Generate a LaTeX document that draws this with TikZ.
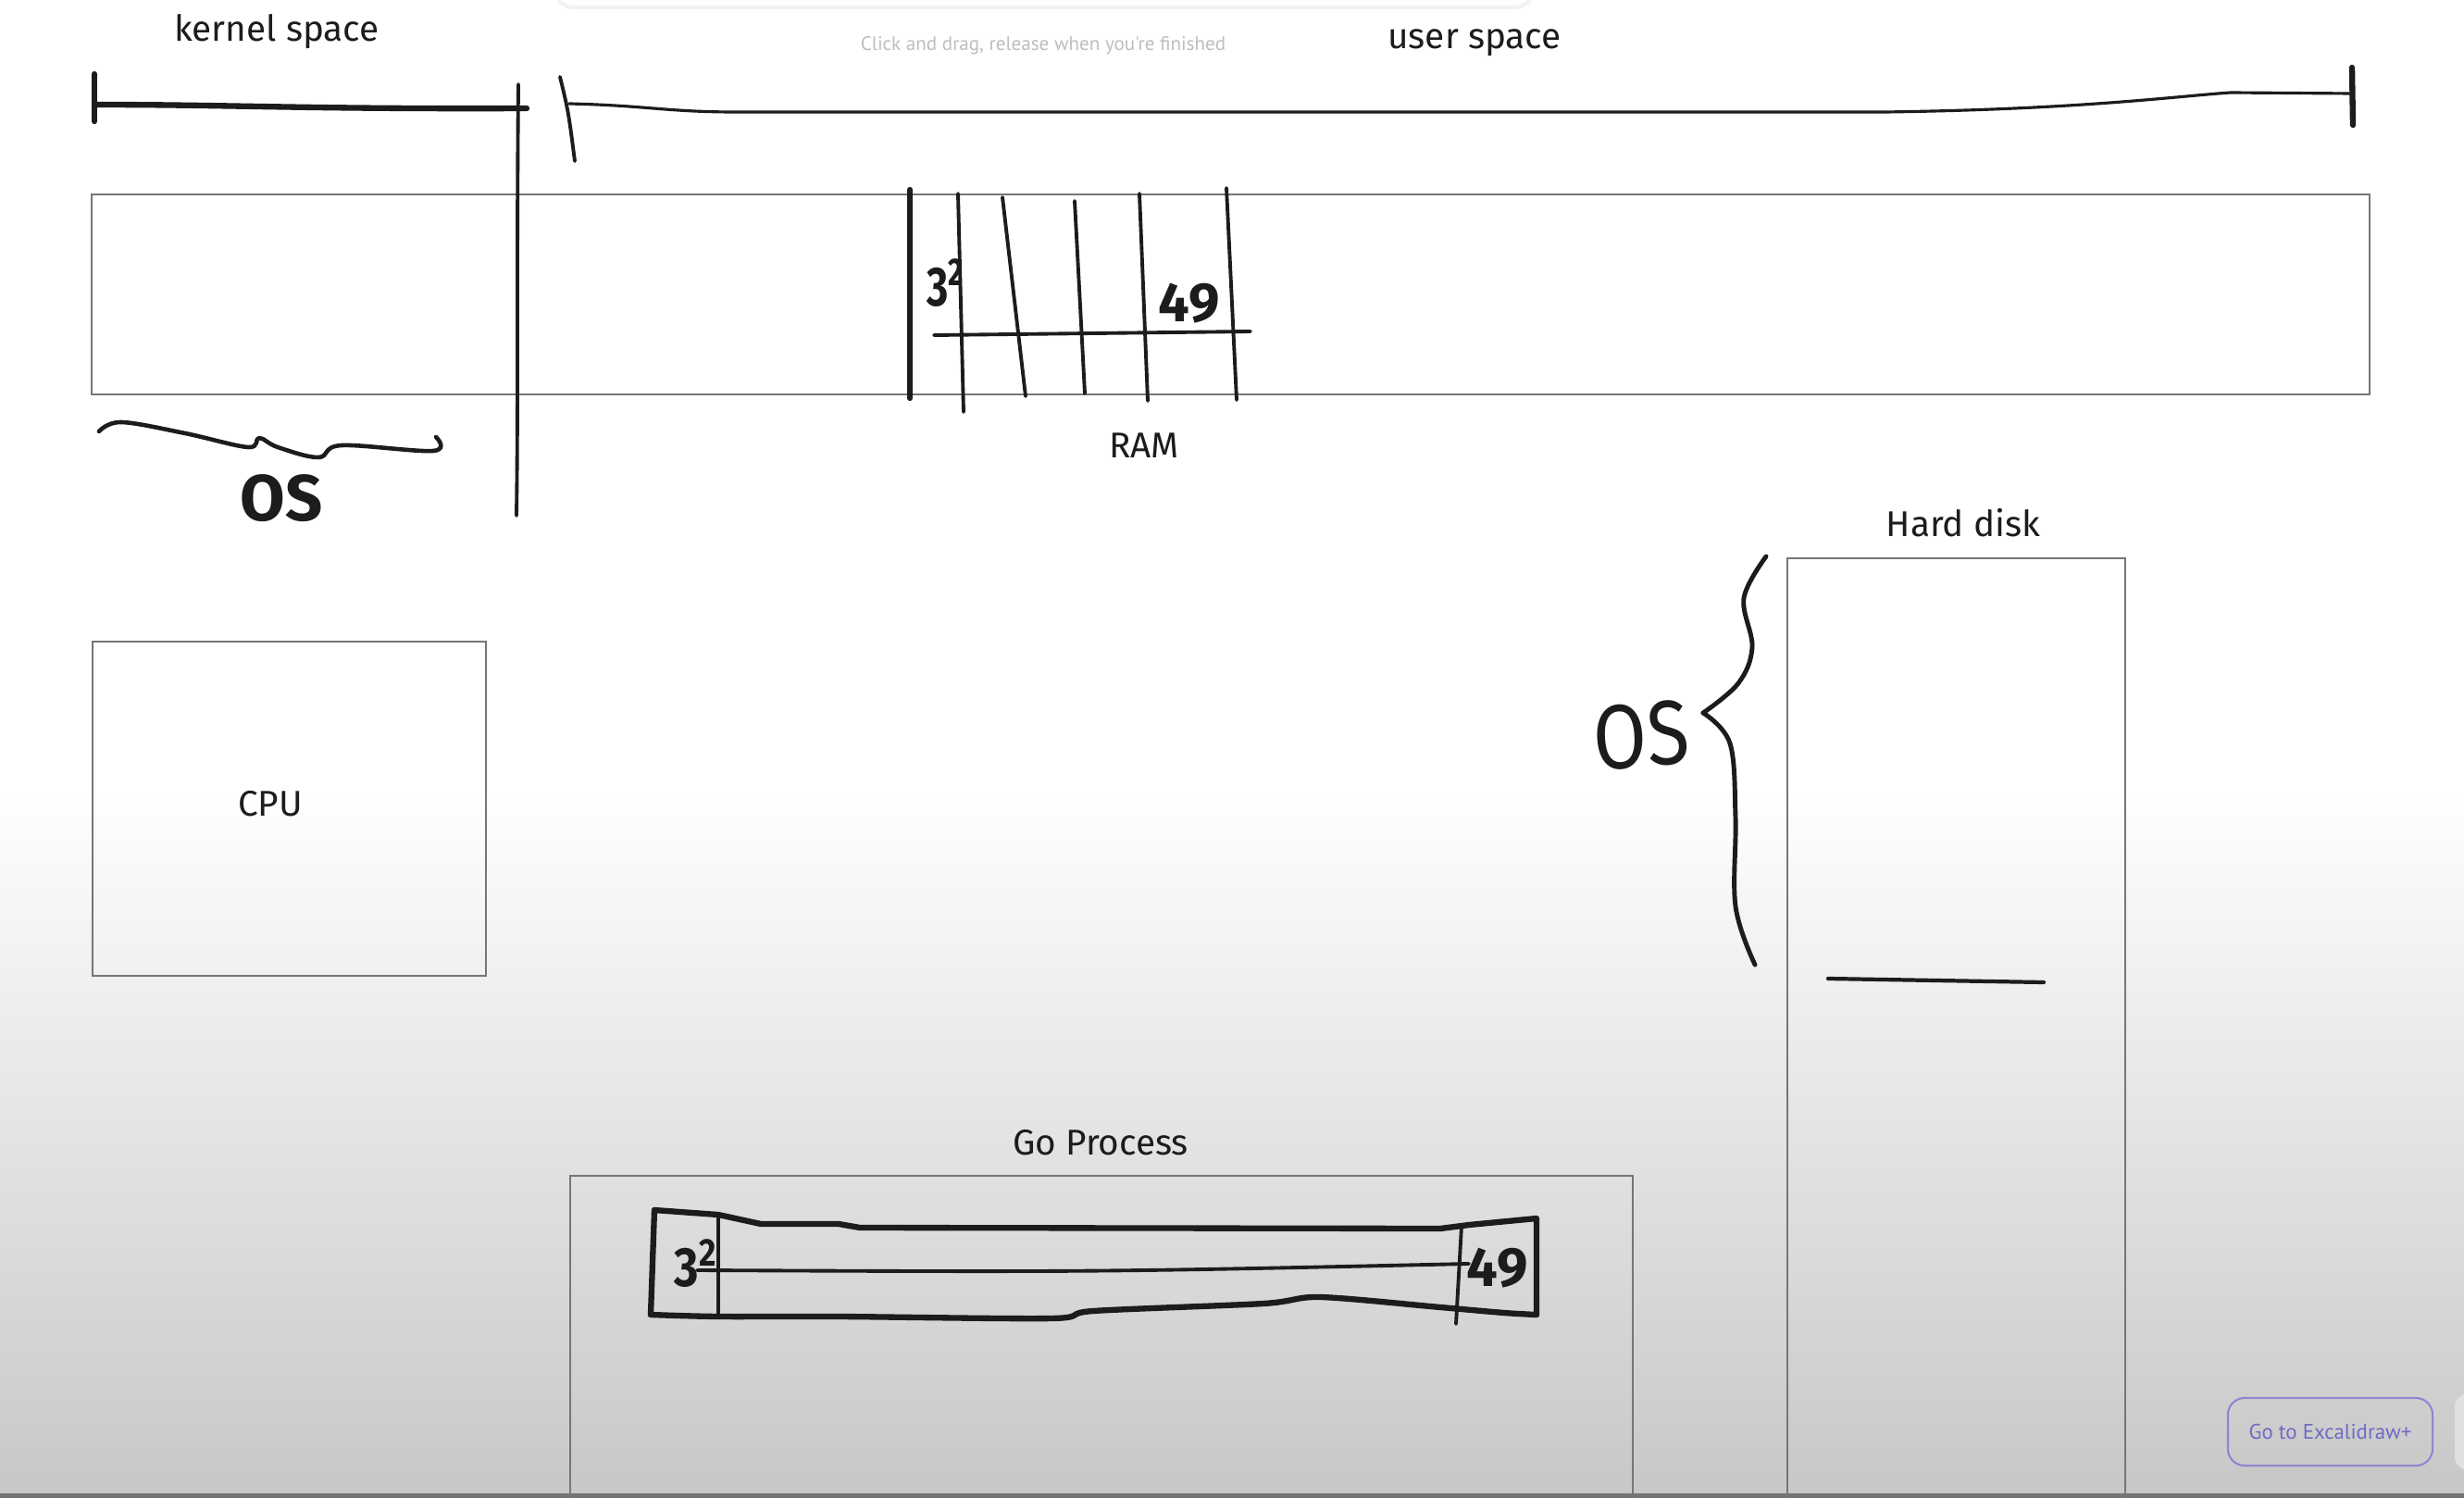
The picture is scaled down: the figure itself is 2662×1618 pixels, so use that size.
\documentclass[tikz,border=0pt]{standalone}
\usepackage{fontspec}
\setmainfont{Fira Sans}
\newfontfamily\uifont{PT Sans}
\usetikzlibrary{positioning,calc}
\definecolor{boxline}{RGB}{118,118,118}
\definecolor{ink}{RGB}{28,28,28}
\definecolor{hint}{RGB}{190,190,190}
\definecolor{plus}{RGB}{112,106,196}
\tikzset{
  box/.style    ={rectangle, draw=boxline, line width=0.6pt, inner sep=0pt},
  lbl/.style    ={font=\fontsize{11}{13}\selectfont, text=ink, inner sep=1pt},
  hand/.style   ={draw=ink, line width=1.1pt, line cap=round, line join=round},
  heavy/.style  ={hand, line width=1.8pt},
  digit/.style  ={font=\fontsize{17}{19}\selectfont\bfseries, text=ink, inner sep=0pt},
  bigos/.style  ={font=\fontsize{20}{22}\selectfont\bfseries, text=ink, inner sep=0pt},
}
\begin{document}
\begin{tikzpicture}[x=0.01cm, y=-0.01cm]
  \useasboundingbox (0,0) rectangle (2662,1618);
  \clip (0,0) rectangle (2662,1618);
  % canvas
  \fill[white] (0,0) rectangle (2662,1618);
  \shade[top color=white, bottom color=black!22] (0,850) rectangle (2662,1618);
  \fill[black!55] (0,1613) rectangle (2662,1618);
  \fill[black!5, rounded corners=6pt] (598,-30) rectangle (1658,10);
  \fill[white, rounded corners=6pt] (600,-30) rectangle (1656,6);

  % boxes
  \node[box, minimum width=24.59cm, minimum height=2.16cm] (ram) at (1329.5,318) {};
  \node[box, minimum width=4.25cm, minimum height=3.61cm] (cpu) at (312.5,873.5) {};
  \node[box, minimum width=3.65cm, minimum height=10.97cm] (disk) at (2113.5,1151.5) {};
  \node[box, minimum width=11.48cm, minimum height=4.30cm] (goproc) at (1190,1485) {};

  % labels
  \node[lbl] (kernel) at (299,34) {kernel space};
  \node[lbl] (user) at (1593,46) {user space};
  \node[text=hint, font=\uifont\fontsize{6}{7}\selectfont] (hintmsg) at (1127,49)
      {Click and drag, release when you're finished};
  \node[lbl] (ramlbl) at (1236,481) {RAM};
  \node[lbl] (cpulbl) at (292,868) {CPU};
  \node[lbl] (disklbl) at (2121,565) {Hard disk};
  \node[lbl] (golbl) at (1189,1234) {Go Process};
  \node[bigos] (oskern) at (304,538) {OS};
  \node[font=\fontsize{28}{30}\selectfont, text=ink, inner sep=0pt, xscale=0.85, rotate=4]
      (osdisk) at (1773,794) {OS};

  % kernel / user split
  \draw[heavy] (102,80) -- (102,131);
  \draw[heavy] (102,113) .. controls (250,113) and (330,118) .. (569,117);
  \draw[hand] (560,91) .. controls (558,300) and (560,420) .. (558,557);
  \draw[hand] (605,83) .. controls (614,120) .. (621,174);
  \draw[hand, line width=0.9pt] (615,112) .. controls (700,114) and (720,121) .. (796,121)
      -- (2036,121) .. controls (2250,118) and (2350,104) .. (2410,100) -- (2542,101);
  \draw[heavy] (2541,73) -- (2542,135);
  \draw[heavy, line width=1.3pt] plot[smooth, tension=0.6] coordinates
      {(107,466) (131,456) (200,468) (268,483) (280,473) (300,483) (344,494)
       (369,481) (468,487) (471,472)};

  % pages in RAM
  \draw[heavy] (983,205) -- (983,430);
  \draw[hand] (1035,209) -- (1041,445);
  \draw[hand] (1083,213) -- (1108,428);
  \draw[hand] (1161,217) -- (1172,425);
  \draw[hand] (1231,209) -- (1240,433);
  \draw[hand] (1325,203) -- (1336,432);
  \draw[hand] (1009,362) -- (1351,358);
  \node[digit, xscale=0.75] (ramlo) at (1022,306) {3\textsuperscript{2}};
  \node[digit] (ramhi) at (1285,328) {49};

  % OS brace on the disk
  \draw[hand, line width=1.4pt] plot[smooth, tension=0.6] coordinates
      {(1908,601) (1884,646) (1893,699) (1878,738) (1840,770)};
  \draw[hand, line width=1.4pt] plot[smooth, tension=0.6] coordinates
      {(1840,770) (1869,803) (1875,883) (1875,979) (1896,1042)};
  \draw[hand, line width=1.2pt] (1975,1057) -- (2208,1061);

  % slice in the Go process
  \draw[heavy] (707,1307) -- (703,1420);
  \draw[heavy] (707,1307) -- (776,1312) -- (822,1322) -- (906,1322) -- (929,1326)
      -- (1556,1327) -- (1587,1323) -- (1660,1316) -- (1660,1420);
  \draw[heavy] plot[smooth, tension=0.5] coordinates
      {(1660,1420) (1625,1418) (1556,1412) (1426,1401) (1365,1408) (1181,1416)
       (1136,1424) (906,1422) (776,1422) (703,1420)};
  \draw[hand] (776,1314) -- (776,1420);
  \draw[hand] (1579,1324) -- (1573,1430);
  \draw[hand] (753,1372) .. controls (1181,1374) .. (1587,1365);
  \node[digit, xscale=0.85] (golo) at (752,1365) {3\textsuperscript{2}};
  \node[digit] (gohi) at (1618,1370) {49};

  % editor button
  \node[draw=plus!80, rounded corners=0.18cm, line width=0.6pt,
        minimum width=2.21cm, minimum height=0.73cm, text=plus,
        font=\uifont\fontsize{6.5}{8}\selectfont] (plusbtn) at (2517.5,1546.5) {Go to Excalidraw+};
  \fill[black!12, rounded corners=0.15cm] (2652,1505) rectangle (2700,1588);
\end{tikzpicture}
\end{document}
